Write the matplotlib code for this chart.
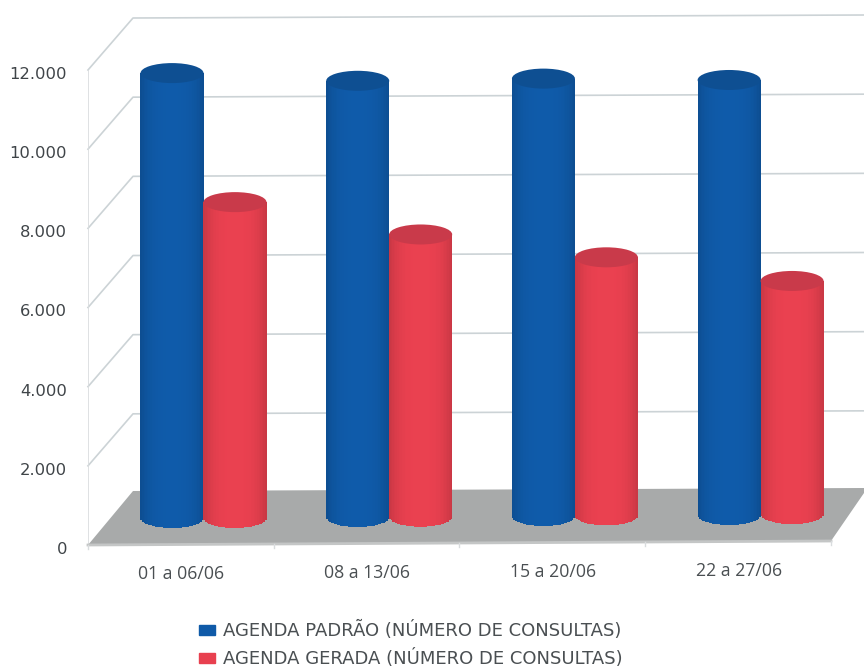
import numpy as np
import matplotlib
matplotlib.use('Agg')
import matplotlib.pyplot as plt
from matplotlib.patches import Ellipse, Polygon, Patch
from matplotlib.colors import to_rgb
from matplotlib.transforms import ScaledTranslation

## dados
periodos = ['01 a 06/06', '08 a 13/06', '15 a 20/06', '22 a 27/06']
agenda_padrao = [11240, 11020, 11050, 10990]
agenda_gerada = [7980, 7130, 6520, 5890]
ticks_y = [0, 2000, 4000, 6000, 8000, 10000, 12000]
labels_y = ['0', '2.000', '4.000', '6.000', '8.000', '10.000', '12.000']
nome_padrao = 'AGENDA PADRÃO (NÚMERO DE CONSULTAS)'
nome_gerada = 'AGENDA GERADA (NÚMERO DE CONSULTAS)'

W, H = 864, 670
PX_Y = 475 / 12000    # pixels por consulta
PX_X = 185.7          # pixels por categoria
X0 = 181.5            # centro da primeira categoria (px)

fig = plt.figure(figsize=(W / 100, H / 100), dpi=100)
ax = fig.add_axes([88 / W, (H - 545) / H, 776 / W, 475 / H])
ax.set_xlim((88 - X0) / PX_X, (864 - X0) / PX_X)
ax.set_ylim(0, 12000)
for s in ax.spines.values():
    s.set_visible(False)


def cx(px):
    return (px - X0) / PX_X


def dy(px):
    return px / PX_Y


## paredes e grade
cor_grade = '#ccd3d6'
prof_x = 45
prof_y = 52
for t in ticks_y:
    xs = [cx(88), cx(88 + prof_x), cx(864)]
    ys = [t, t + dy(prof_y), t + dy(prof_y + 3)]
    if t > 0:
        ax.plot(xs, ys, color=cor_grade, lw=1.2, clip_on=False, zorder=1)
ax.plot([cx(88), cx(88)], [0, 12000], color='#d9dcde', lw=1.2, zorder=1)

## piso
piso = [(cx(88), 0), (cx(88 + prof_x), dy(prof_y + 2)), (cx(864), dy(prof_y + 5)),
        (cx(864), dy(prof_y)), (cx(831), dy(4))]
ax.add_patch(Polygon(piso, closed=True, color='#a8aaaa', lw=0, zorder=2, clip_on=False))
ax.plot([cx(88), cx(831)], [0, dy(4)], color='#c4c6c6', lw=2, zorder=2, clip_on=False)
for i in range(5):
    px = 88 + 185.7 * i
    yy = dy(4) * i / 4
    if px < 840:
        ax.plot([cx(px), cx(px)], [yy, yy - dy(4)], color='#d9dcde', lw=1, clip_on=False, zorder=2)


def cilindro(x, base, valor, largura, cor, cor_topo, z):
    semi = dy(10)
    cor = np.array(to_rgb(cor))
    n = 40
    bordas = np.linspace(-1, 1, n + 1)
    for a, b in zip(bordas[:-1], bordas[1:]):
        u = (a + b) / 2
        f = 0.86 + 0.15 * (1 - abs(u) ** 3)
        pe = base - semi * np.sqrt(max(1 - u ** 2, 0))
        ax.bar(x + u * largura / 2, base + valor - pe, width=(b - a) * largura / 2 * 1.05,
               bottom=pe, color=np.clip(cor * f, 0, 1), lw=0, zorder=z, clip_on=False)
    ax.add_patch(Ellipse((x, base + valor), largura, 2 * semi, color=cor_topo, lw=0,
                         zorder=z + 0.1, clip_on=False))


## cilindros
largura = 63 / PX_X
for i in range(len(periodos)):
    base_azul = dy(545 - (518 - i))
    base_verm = dy(545 - (518 - i * 1.3))
    cilindro(i - 0.051, base_azul, agenda_padrao[i], largura, '#0f5aa8', '#0e4f92', 3)
    cilindro(i + 0.288, base_verm, agenda_gerada[i], largura, '#e8404f', '#c93a4a', 4)

## eixos
ax.set_yticks(ticks_y)
ax.set_yticklabels(labels_y, fontsize=11.8, color='#3f4448', family='DejaVu Sans')
ax.tick_params(axis='y', length=0, pad=15)
desce = ScaledTranslation(0, -3 / 100, fig.dpi_scale_trans)
for lb in ax.get_yticklabels():
    lb.set_transform(lb.get_transform() + desce)
ax.set_xticks([])
for i, p in enumerate(periodos):
    ax.text(i, -dy(29 - i * 1.0), p, ha='center', va='center', fontsize=12.7,
            family='Open Sans', color='#4a4f52', clip_on=False)

## legenda
handles = [Patch(color='#0f5aa8'), Patch(color='#e8404f')]
fig.legend(handles, [nome_padrao, nome_gerada], loc='upper left',
           bbox_to_anchor=(183 / W, 1 - 605 / H), frameon=False,
           labelcolor='#4a4f52', handlelength=0.85, handleheight=0.55, handletextpad=0.45,
           labelspacing=0.5, prop={'family': 'DejaVu Sans', 'size': 13})

plt.savefig('out.png', dpi=100)
